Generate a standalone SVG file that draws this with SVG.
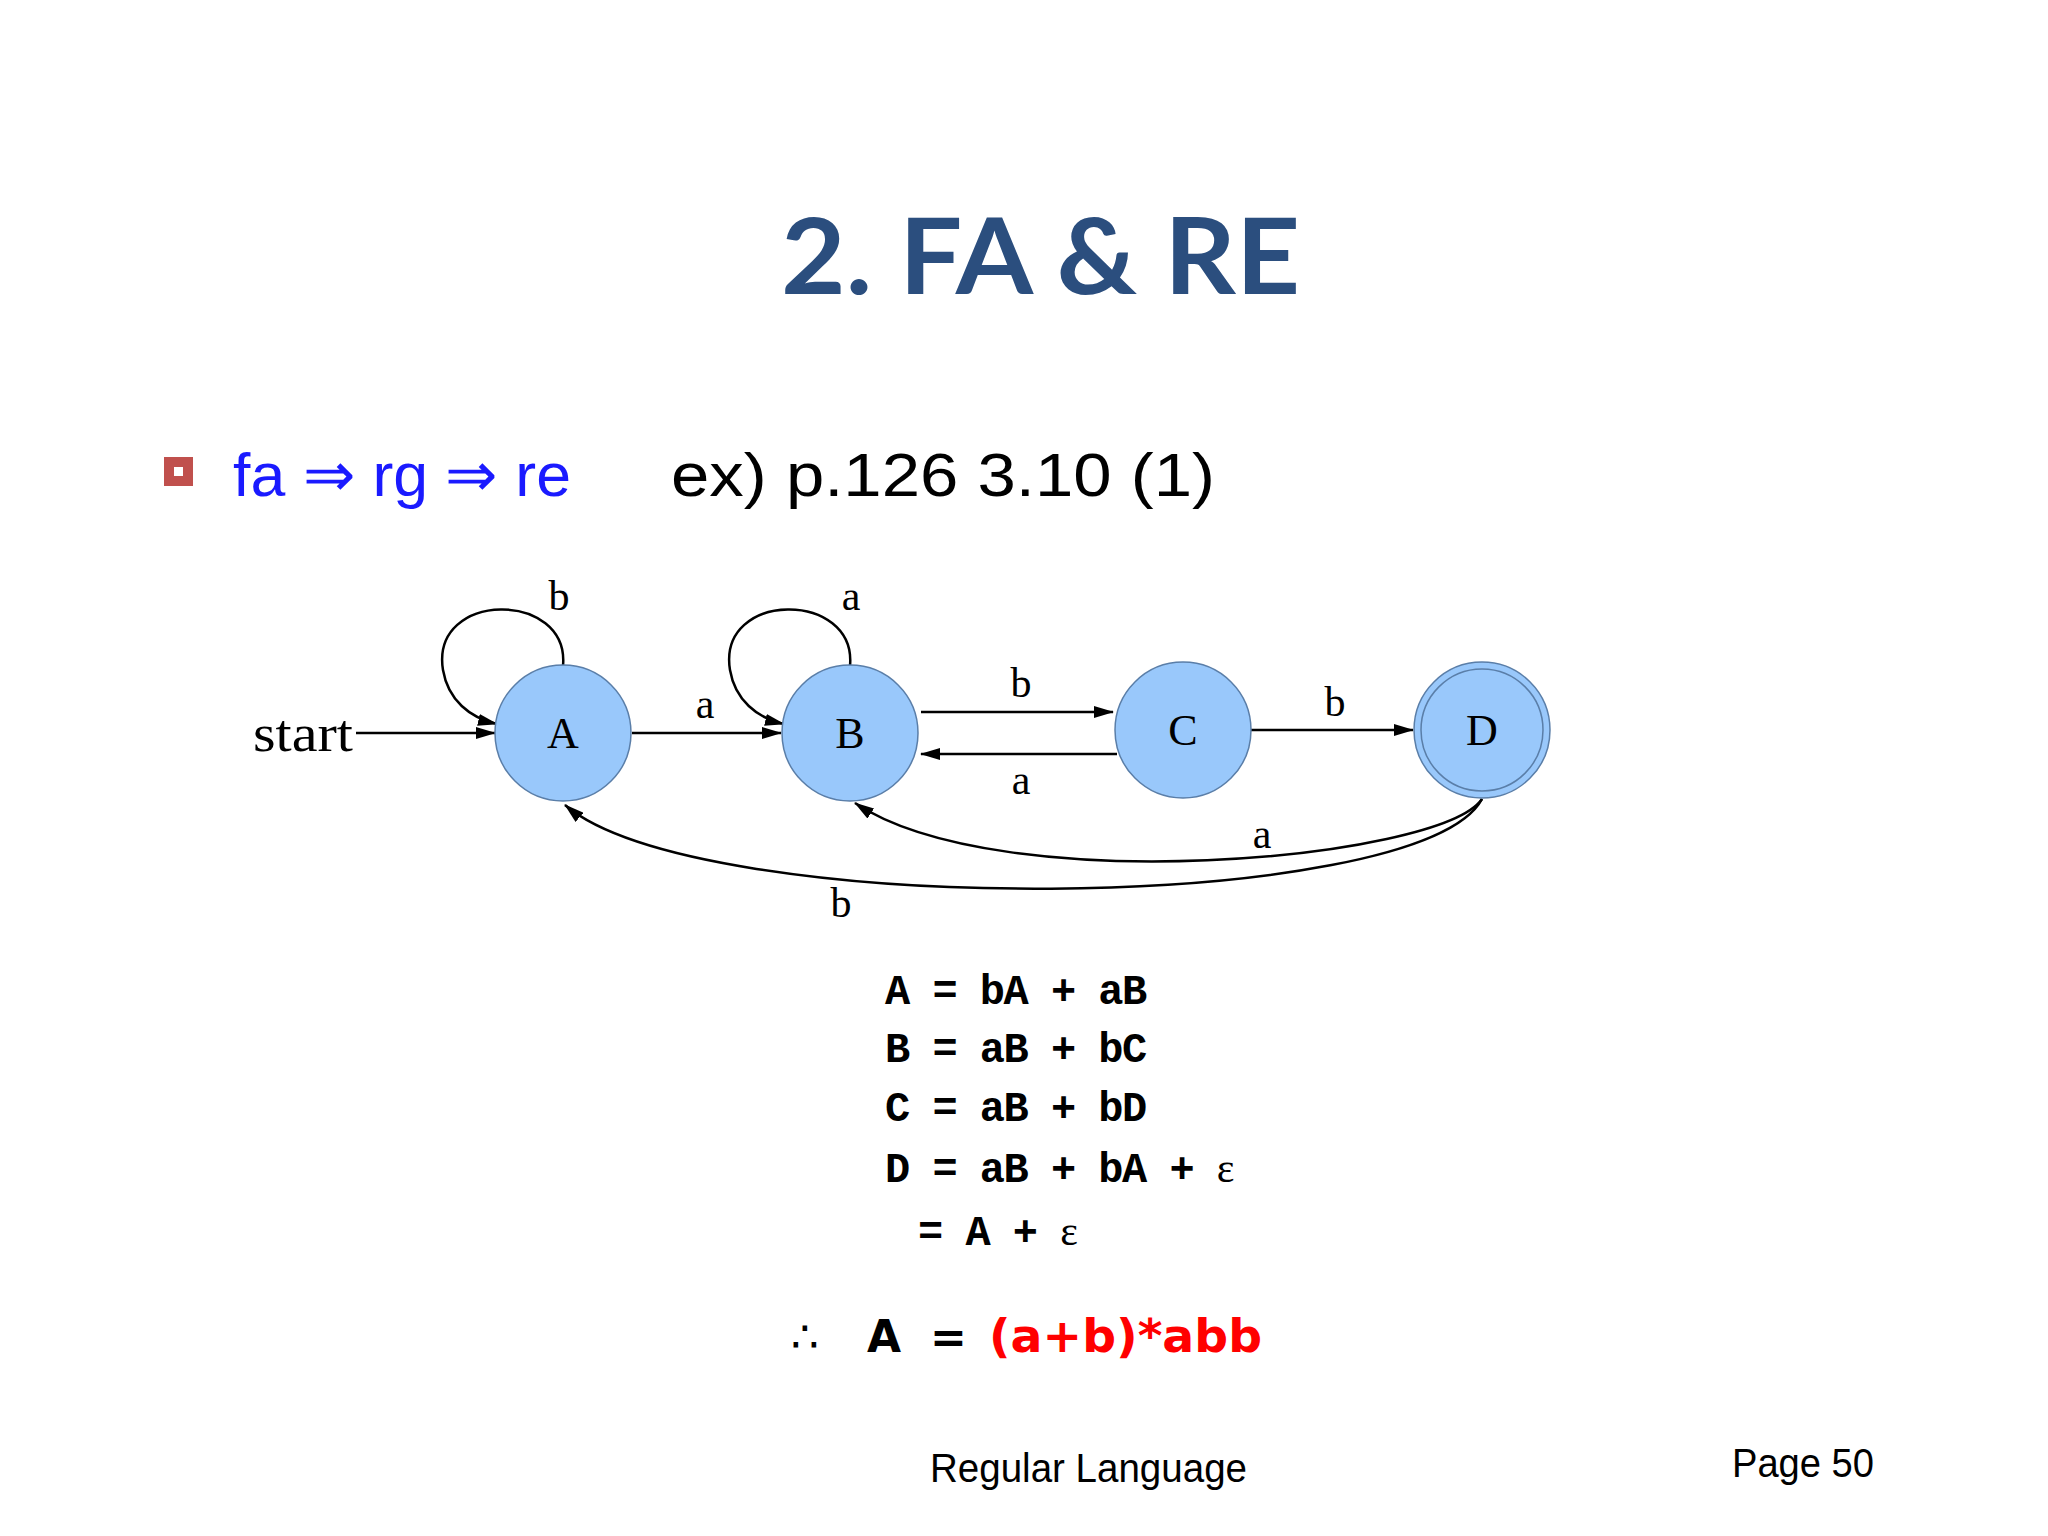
<svg xmlns="http://www.w3.org/2000/svg" width="2048" height="1536" viewBox="0 0 2048 1536">
<defs>
<marker id="ah" markerWidth="20" markerHeight="12" refX="19" refY="6" orient="auto" markerUnits="userSpaceOnUse"><path d="M0,0 L20,6 L0,12 Z" fill="#000"/></marker>
<style>
.node{fill:#99c8fb;stroke:#5a7ea8;stroke-width:1.5}
.nl{font-family:"Liberation Serif",serif;font-size:44px;text-anchor:middle}
.el{font-family:"Liberation Serif",serif;font-size:42px;text-anchor:middle}
.eq{font-family:"Liberation Mono",monospace;font-weight:bold;font-size:42px;letter-spacing:-1.5px}
.c{fill:none;stroke:#000;stroke-width:2.5;marker-end:url(#ah)}
</style>
</defs>
<rect width="2048" height="1536" fill="#fff"/>
<text x="781" y="294" textLength="519" lengthAdjust="spacingAndGlyphs" font-family="Lato,'Liberation Sans',sans-serif" font-weight="bold" font-size="106" fill="#2b4e7e">2. FA &amp; RE</text>
<rect x="164" y="457" width="29" height="29" fill="#c0504d"/>
<rect x="174" y="467" width="9" height="9" fill="#fff"/>
<text x="233" y="496" textLength="338" lengthAdjust="spacingAndGlyphs" font-family="'Liberation Sans',sans-serif" font-size="62" fill="#1a1aff">fa ⇒ rg ⇒ re</text>
<text x="671" y="496" textLength="544" lengthAdjust="spacingAndGlyphs" font-family="'Liberation Sans',sans-serif" font-size="62" fill="#000">ex)  p.126 3.10 (1)</text>
<g id="connectors">
<path class="c" d="M356,733 L495,733"/>
<path class="c" d="M632,733 L781,733"/>
<path class="c" d="M921,712 L1113,712"/>
<path class="c" d="M1117,754 L921,754"/>
<path class="c" d="M1251,730 L1413,730"/>
<path class="c" d="M563,666 C570,590 430,590 443,670 C448,700 470,718 497,724"/>
<path class="c" d="M850,666 C857,590 717,590 730,670 C735,700 757,718 784,724"/>
<path class="c" d="M1482,799 C1440,860 1000,900 855,803"/>
<path class="c" d="M1482,799 C1420,915 700,920 565,805"/>
</g>
<text x="253" y="751" textLength="100" lengthAdjust="spacingAndGlyphs" font-family="'Liberation Serif',serif" font-size="52">start</text>
<g id="A"><circle class="node" cx="563" cy="733" r="68"/><text class="nl" x="563" y="748">A</text></g>
<g id="B"><circle class="node" cx="850" cy="733" r="68"/><text class="nl" x="850" y="748">B</text></g>
<g id="C"><circle class="node" cx="1183" cy="730" r="68"/><text class="nl" x="1183" y="745">C</text></g>
<g id="D"><circle class="node" cx="1482" cy="730" r="68"/><circle cx="1482" cy="730" r="61" fill="none" stroke="#5a7ea8" stroke-width="1.5"/><text class="nl" x="1482" y="745">D</text></g>
<text class="el" x="559" y="610">b</text>
<text class="el" x="851" y="610">a</text>
<text class="el" x="705" y="718">a</text>
<text class="el" x="1021" y="697">b</text>
<text class="el" x="1021" y="794">a</text>
<text class="el" x="1335" y="716">b</text>
<text class="el" x="1262" y="848">a</text>
<text class="el" x="841" y="917">b</text>
<text class="eq" x="885" y="1004">A = bA + aB</text>
<text class="eq" x="885" y="1062">B = aB + bC</text>
<text class="eq" x="885" y="1121">C = aB + bD</text>
<text class="eq" x="885" y="1182">D = aB + bA + <tspan font-family="'Liberation Serif',serif" font-weight="normal">ε</tspan></text>
<text class="eq" x="918" y="1245">= A + <tspan font-family="'Liberation Serif',serif" font-weight="normal">ε</tspan></text>
<text x="791" y="1352" font-family="'DejaVu Sans',sans-serif" font-size="44">∴</text>
<text x="867" y="1352" font-family="'DejaVu Sans',sans-serif" font-weight="bold" font-size="44">A</text>
<text x="930" y="1352" font-family="'DejaVu Sans',sans-serif" font-weight="bold" font-size="44">=</text>
<text x="989" y="1352" textLength="273" lengthAdjust="spacingAndGlyphs" font-family="'DejaVu Sans',sans-serif" font-weight="bold" font-size="46" fill="#ff0000">(a+b)*abb</text>
<text x="930" y="1482" textLength="317" lengthAdjust="spacingAndGlyphs" font-family="'Liberation Sans',sans-serif" font-size="40">Regular Language</text>
<text x="1732" y="1477" textLength="142" lengthAdjust="spacingAndGlyphs" font-family="'Liberation Sans',sans-serif" font-size="40">Page 50</text>
</svg>
